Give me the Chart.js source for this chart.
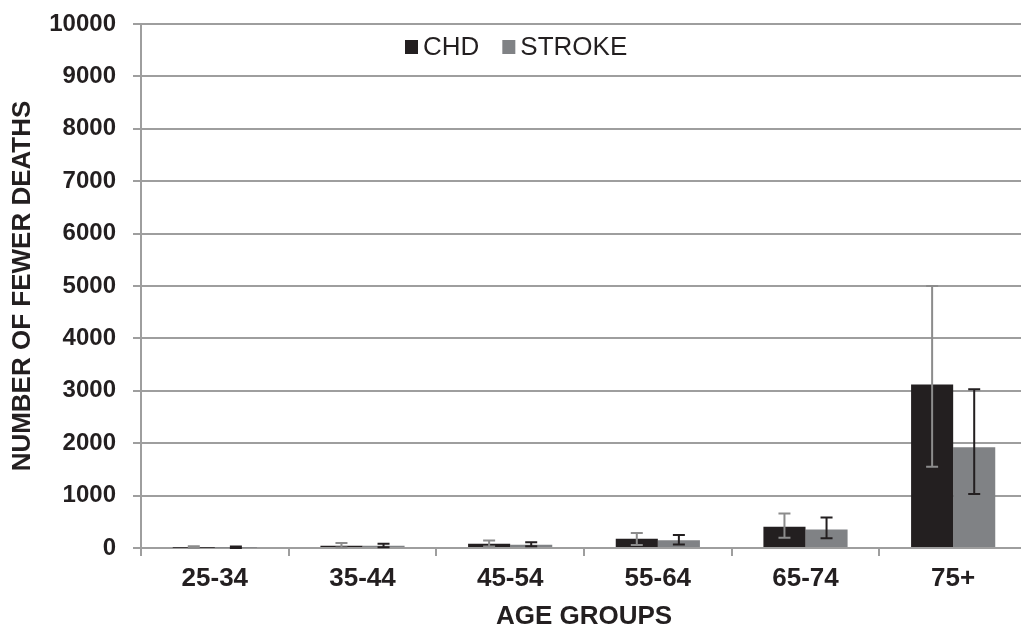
<!DOCTYPE html>
<html lang="en">

<head>
    <meta charset="UTF-8">
    <title>Fewer deaths by age group</title>
    <style>
        body {
            margin: 0;
            background-color: #ffffff;
            overflow: hidden;
        }

        .chart-container {
            width: 1030px;
            height: 628px;
        }
    </style>
</head>

<body>
    <div class="chart-container">
        <canvas id="deathsChart" width="1030" height="628"></canvas>
    </div>

    <script src="https://cdn.jsdelivr.net/npm/chart.js"></script>
    <script>
        const ageGroups = ['25-34', '35-44', '45-54', '55-64', '65-74', '75+'];

        const chd = [5, 45, 80, 175, 405, 3120];
        const chdLow = [0, 10, 30, 55, 195, 1550];
        const chdHigh = [35, 95, 145, 285, 660, 5000];

        const stroke = [5, 45, 60, 150, 355, 1925];
        const strokeLow = [0, 15, 35, 65, 185, 1030];
        const strokeHigh = [30, 80, 110, 250, 580, 3030];

        const yTicks = [0, 1000, 2000, 3000, 4000, 5000, 6000, 7000, 8000, 9000, 10000];

        const FONT = '"Liberation Sans", Arial, sans-serif';
        const DARK = '#231f20';
        const GREY = '#808285';
        const GRID = '#9e9e9e';

        // error bars, drawn from the bar elements and the y scale
        const errorBars = {
            id: 'errorBars',
            afterDatasetsDraw(chart) {
                const ctx = chart.ctx;
                const y = chart.scales.y;
                chart.data.datasets.forEach((ds, i) => {
                    const meta = chart.getDatasetMeta(i);
                    meta.data.forEach((bar, j) => {
                        const top = y.getPixelForValue(ds.errHigh[j]);
                        const bottom = y.getPixelForValue(ds.errLow[j]);
                        ctx.save();
                        ctx.strokeStyle = ds.errColor;
                        ctx.lineWidth = 2;
                        ctx.beginPath();
                        ctx.moveTo(bar.x, top);
                        ctx.lineTo(bar.x, bottom);
                        ctx.moveTo(bar.x - 6, top);
                        ctx.lineTo(bar.x + 6, top);
                        ctx.moveTo(bar.x - 6, bottom);
                        ctx.lineTo(bar.x + 6, bottom);
                        ctx.stroke();
                        ctx.restore();
                    });
                });
            }
        };

        // legend inside the plot area
        const innerLegend = {
            id: 'innerLegend',
            afterDraw(chart) {
                const ctx = chart.ctx;
                let x = 405;
                const yMid = 47;
                ctx.save();
                ctx.font = '26px ' + FONT;
                ctx.textBaseline = 'middle';
                chart.data.datasets.forEach(ds => {
                    ctx.fillStyle = ds.backgroundColor;
                    ctx.fillRect(x, yMid - 7, 13, 14);
                    ctx.fillStyle = DARK;
                    ctx.fillText(ds.label, x + 18, yMid + 1);
                    x += 18 + ctx.measureText(ds.label).width + 23;
                });
                ctx.restore();
            }
        };

        const ctx = document.getElementById('deathsChart').getContext('2d');

        new Chart(ctx, {
            type: 'bar',
            data: {
                labels: ageGroups,
                datasets: [
                    {
                        label: 'CHD',
                        data: chd,
                        errLow: chdLow,
                        errHigh: chdHigh,
                        errColor: '#8c8c8c',
                        backgroundColor: DARK,
                        categoryPercentage: 0.57,
                        barPercentage: 1
                    },
                    {
                        label: 'STROKE',
                        data: stroke,
                        errLow: strokeLow,
                        errHigh: strokeHigh,
                        errColor: DARK,
                        backgroundColor: GREY,
                        categoryPercentage: 0.57,
                        barPercentage: 1
                    }
                ]
            },
            options: {
                responsive: false,
                animation: false,
                layout: {
                    padding: { left: 0, top: 24, right: 3, bottom: 0 }
                },
                plugins: {
                    legend: { display: false },
                    tooltip: { enabled: false }
                },
                scales: {
                    x: {
                        afterFit: (scale) => { scale.height = 80; },
                        grid: {
                            drawOnChartArea: false,
                            drawTicks: true,
                            tickLength: 8,
                            color: GRID,
                            lineWidth: 2
                        },
                        border: { color: GRID, width: 2 },
                        ticks: {
                            color: DARK,
                            padding: 7,
                            font: { family: FONT, size: 26, weight: 'bold' }
                        },
                        title: {
                            display: true,
                            text: 'AGE GROUPS',
                            color: DARK,
                            padding: 0,
                            font: { family: FONT, size: 26, weight: 'bold', lineHeight: 0.85 }
                        }
                    },
                    y: {
                        min: 0,
                        max: 10000,
                        afterFit: (scale) => {
                            scale.width = 141;
                            scale.paddingTop = 0;
                            scale.paddingBottom = 0;
                        },
                        afterBuildTicks: (scale) => {
                            scale.ticks = yTicks.map(v => ({ value: v }));
                        },
                        grid: {
                            color: GRID,
                            lineWidth: 2,
                            tickLength: 8
                        },
                        border: { color: GRID, width: 2 },
                        ticks: {
                            color: DARK,
                            padding: 17,
                            callback: (value) => String(value),
                            font: { family: FONT, size: 24, weight: 'bold' }
                        },
                        title: {
                            display: true,
                            text: 'NUMBER OF FEWER DEATHS',
                            color: DARK,
                            padding: { top: 7, bottom: 0 },
                            font: { family: FONT, size: 26, weight: 'bold' }
                        }
                    }
                }
            },
            plugins: [errorBars, innerLegend]
        });
    </script>
</body>

</html>
